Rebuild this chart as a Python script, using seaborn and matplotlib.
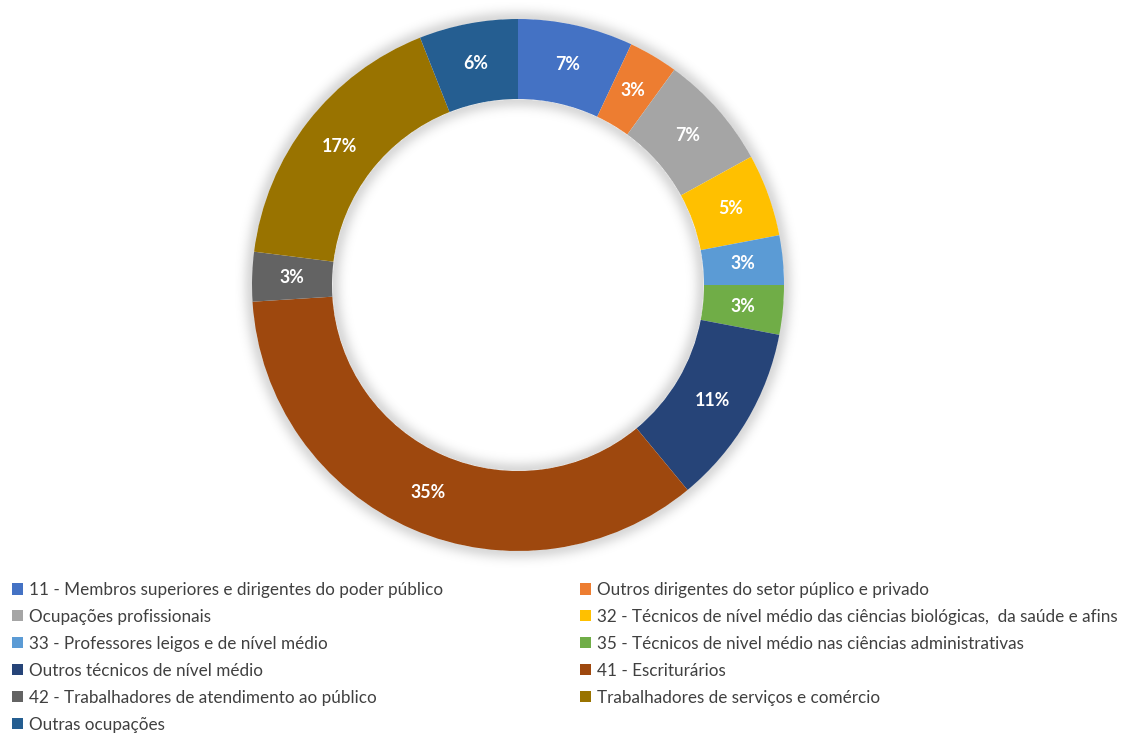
import numpy as np
import matplotlib
matplotlib.use("Agg")
import matplotlib.pyplot as plt
import seaborn as sns
from matplotlib.patches import Patch

categories = [
    "11 - Membros superiores e dirigentes do poder público",
    "Outros dirigentes do setor púplico e privado",
    "Ocupações profissionais",
    "32 - Técnicos de nível médio das ciências biológicas,  da saúde e afins",
    "33 - Professores leigos e de nível médio",
    "35 - Técnicos de nivel médio nas ciências administrativas",
    "Outros técnicos de nível médio",
    "41 - Escriturários",
    "42 - Trabalhadores de atendimento ao público",
    "Trabalhadores de serviços e comércio",
    "Outras ocupações",
]
shares = [7, 3, 7, 5, 3, 3, 11, 35, 3, 17, 6]
colors = ["#4472C4", "#ED7D31", "#A5A5A5", "#FFC000", "#5B9BD5", "#70AD47",
          "#264478", "#9E480E", "#636363", "#997300", "#255E91"]

sns.set_theme(style="white")
plt.rcParams["font.family"] = ["Lato", "DejaVu Sans"]
palette = sns.color_palette(colors)

W, H = 1139, 736
fig = plt.figure(figsize=(W / 100, H / 100), dpi=100)
fig.patch.set_facecolor("white")

# donut geometry in pixels
cx, cy, r_out, r_in = 518, 285, 266, 186
pad = 1.12
ax = fig.add_axes([(cx - pad * r_out) / W, (H - cy - pad * r_out) / H,
                   2 * pad * r_out / W, 2 * pad * r_out / H])
ax.axis("off")

ring_w = 1 - r_in / r_out

wedges, _ = ax.pie(
    shares, colors=palette, startangle=90, counterclock=False, radius=1.0,
    wedgeprops=dict(width=ring_w, linewidth=0),
)
for w in wedges:
    w.set_zorder(2)

# soft shadow around the ring
g = np.linspace(-pad, pad, 700)
X, Y = np.meshgrid(g, g)
R = np.hypot(X, Y)
d = np.where(R > 1.0, R - 1.0, np.where(R < 1 - ring_w, (1 - ring_w) - R, 0))
alpha = 0.15 * np.exp(-(d / 0.035) ** 2)
alpha[(R <= 1.0) & (R >= 1 - ring_w)] = 0
shadow = np.zeros(X.shape + (4,))
shadow[..., 3] = alpha
ax.imshow(shadow, extent=(-pad, pad, -pad, pad), origin="lower", zorder=0,
          interpolation="bilinear")

ax.set_xlim(-pad, pad)
ax.set_ylim(-pad, pad)
ax.set_aspect("equal")

mid_r = 1 - ring_w / 2
total = sum(shares)
acc = 0
for v in shares:
    ang = np.deg2rad(90 - 360 * (acc + v / 2) / total)
    ax.text(mid_r * np.cos(ang), mid_r * np.sin(ang), f"{v}%", ha="center", va="center",
            color="white", fontsize=12.8, fontweight="bold", zorder=3)
    acc += v

def make_handles(idx):
    return [Patch(facecolor=palette[i], edgecolor="none") for i in idx], [categories[i] for i in idx]

left_idx = [0, 2, 4, 6, 8, 10]
right_idx = [1, 3, 5, 7, 9]
legend_kw = dict(loc="upper left", frameon=False, fontsize=12.3, handlelength=0.62,
                 handleheight=0.62, handletextpad=0.35, labelspacing=0.64,
                 borderaxespad=0, borderpad=0)
h1, l1 = make_handles(left_idx)
leg1 = fig.legend(h1, l1, bbox_to_anchor=(12 / W, 1 - 582 / H), **legend_kw)
h2, l2 = make_handles(right_idx)
leg2 = fig.legend(h2, l2, bbox_to_anchor=(580 / W, 1 - 582 / H), **legend_kw)
for leg in (leg1, leg2):
    for t in leg.get_texts():
        t.set_color("#404040")

fig.savefig("out.png", dpi=100, facecolor="white")
